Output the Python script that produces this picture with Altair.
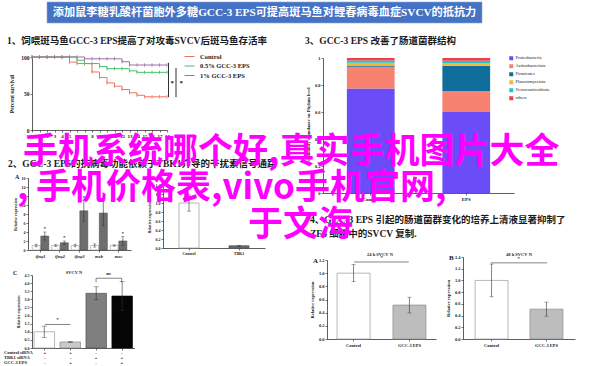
import altair as alt
import pandas as pd

W, H = 600, 366
SERIF = "Liberation Serif"
MIX = "Liberation Serif, Noto Sans CJK SC"
CJK = "Noto Sans CJK SC"
INK = "#1a1a1a"

# ---------------- text content ----------------
banner_text = "添加鼠李糖乳酸杆菌胞外多糖GCC-3 EPS可提高斑马鱼对鲤春病毒血症SVCV的抵抗力"
heading1 = "1、饲喂斑马鱼GCC-3 EPS提高了对攻毒SVCV后斑马鱼存活率"
heading2 = "2、GCC-3 EPS的抗病毒功能依赖于TBK1介导的干扰素信号通路"
heading3 = "3、GCC-3 EPS 改善了肠道菌群结构"
heading4a = "4、GCC-3 EPS 引起的肠道菌群变化的培养上清液显著抑制了"
heading4b = "ZF4 细胞中的SVCV 复制."
overlay1 = "手机系统哪个好,真实手机图片大全"
overlay2 = "手机价格表,vivo手机官网,"
overlay_comma = ","
overlay3 = "于文海"

# ---------------- panel 1: survival ----------------
days = list(range(19))
surv_groups = ["Control", "0.5% GCC-3 EPS", "1% GCC-3 EPS"]
surv_colors = ["#F4735F", "#45C26A", "#A06CA8"]
surv_control = [100, 100, 100, 100, 100, 93, 91, 91, 79.5, 72, 64.5, 60, 55.5, 51, 47.5, 45.5, 45.5, 45.5, 45.5]
surv_low = [100, 100, 100, 100, 100, 100, 95.5, 91, 91, 87, 84, 84, 84, 81, 79, 79, 79, 79, 79]
surv_high = [100, 100, 100, 100, 100, 100, 100, 97.5, 97.5, 97.5, 97.5, 97.5, 93.5, 89, 89, 89, 89, 89, 89]
surv_ticks = [0, 50, 100]
sig_x = [18.2, 19.2]
sig_top = [92, 85]
sig_bottom = [45, 45]
sig_star_x = [18.7, 19.9]
sig_star_y = [64, 64]

# ---------------- panel 3: phylum composition ----------------
samples = ["Control", "EPS"]
phyla = ["Proteobacteria", "Actinobacteriota", "Firmicutes", "Planctomycetota", "Verrucomicrobiota", "others"]
phyla_colors = ["#6A4DF6", "#F7826F", "#0F6E9C", "#F6B730", "#1EC7D0", "#EF3F4B"]
abund_control = [0.775, 0.16, 0.005, 0.025, 0.017, 0.018]
abund_eps = [0.60, 0.155, 0.188, 0.02, 0.017, 0.02]
abund_ticks = [0, 0.2, 0.4, 0.6, 0.8, 1]

# ---------------- panel 2A: interferon genes ----------------
genes = ["ifnφ1", "ifnφ2", "ifnφ3", "mxb", "mxc"]
g_conds = ["Control", "GCC-3 EPS"]
g_ctrl = [1.0, 1.0, 1.0, 1.0, 1.0]
g_ctrl_err = [0.3, 0.2, 0.3, 0.35, 0.15]
g_eps = [3.1, 1.6, 8.7, 8.2, 2.0]
g_eps_err = [0.9, 0.4, 2.3, 2.8, 1.0]
g_ticks = [0, 2, 4, 6, 8, 10, 12, 14, 16]

# ---------------- panel 2B: TBK1 knockdown ----------------
kd_cats = ["Control", "TBK1"]
kd_vals = [1.0, 0.05]
kd_err = [0.18, 0.01]
kd_ticks = [0, 0.2, 0.4, 0.6, 0.8, 1.0, 1.2, 1.4]

# ---------------- panel 2C: SVCV N with siRNA ----------------
c_bars = ["Control siRNA", "Control siRNA + EPS", "TBK1 siRNA", "TBK1 siRNA + EPS"]
c_vals = [1.0, 0.37, 3.37, 3.2]
c_err = [0.35, 0.04, 0.4, 0.9]
c_ticks = [0, 0.5, 1.0, 1.5, 2.0, 2.5, 3.0, 3.5, 4.0, 4.5]
c_rows = ["Control siRNA", "TBK1 siRNA", "GCC-3 EPS"]
c_signs = [["+", "+", "-", "-"], ["-", "-", "+", "+"], ["-", "+", "-", "+"]]

# ---------------- panel 4A / 4B ----------------
ab_cats = ["Control", "GCC-3 EPS"]
a_vals = [1.0, 0.515]
a_err = [0.13, 0.12]
a_ticks = [0, 0.2, 0.4, 0.6, 0.8, 1.0, 1.2]
b_vals = [1.0, 0.51]
b_err = [0.28, 0.12]
b_ticks = [0, 0.2, 0.4, 0.6, 0.8, 1.0, 1.2, 1.4]

WHITE_FILL = "#ffffff"
WHITE_EDGE = "#9a9a9a"


# ---------------- helpers ----------------
def ax_left(x_px, values, title, fmt, size=4.5, title_pad=3):
    return alt.Axis(orient="left", offset=-x_px, values=values, title=title, format=fmt, grid=False,
                    labelFont=SERIF, labelFontSize=size, labelFontWeight="bold", labelColor=INK,
                    labelPadding=1, labelFlush=False, labelOverlap=False,
                    tickSize=2, tickWidth=0.6, tickColor=INK, domainColor=INK, domainWidth=0.7,
                    titleFont=SERIF, titleFontSize=size, titleFontWeight="bold", titleColor=INK,
                    titlePadding=title_pad)


def ax_bottom(y_px, size=4.5, labels=True, values=None, italic=False):
    kw = dict(orient="bottom", offset=y_px - H, title=None, grid=False, labels=labels, labelAngle=0,
              labelFont=SERIF, labelFontSize=size, labelFontWeight="bold", labelColor=INK,
              labelPadding=1.5, labelFlush=False, labelOverlap=False,
              tickSize=2, tickWidth=0.6, tickColor=INK, domainColor=INK, domainWidth=0.7)
    if values is not None:
        kw["values"] = values
    if italic:
        kw["labelFontStyle"] = "italic"
    return alt.Axis(**kw)


def txt(text, x, y, size, color=INK, font=MIX, weight="normal", align="left", baseline="alphabetic"):
    return alt.Chart(pd.DataFrame({"t": [text]})).mark_text(
        align=align, baseline=baseline, fontSize=size, font=font, fontWeight=weight, color=color
    ).encode(x=alt.value(x), y=alt.value(y), text="t:N")


def bar_panel(cats, vals, errs, fills, strokes, xr, pi, po, yd, yr, yvals, yfmt,
              x_axis_y, y_axis_x, ytitle, xlabels=True, cap=5, size=4.5, tpad=3):
    lo = [round(v - e, 4) for v, e in zip(vals, errs)]
    hi = [round(v + e, 4) for v, e in zip(vals, errs)]
    df = pd.DataFrame({"cat": cats, "v": vals, "lo": lo, "hi": hi})

    def xs():
        return alt.Scale(domain=cats, range=xr, paddingInner=pi, paddingOuter=po)

    def ys():
        return alt.Scale(domain=yd, range=yr, nice=False, zero=True)

    bars = alt.Chart(df).mark_bar(strokeWidth=0.7).encode(
        x=alt.X("cat:N", scale=xs(), axis=ax_bottom(x_axis_y, size=size, labels=xlabels)),
        y=alt.Y("v:Q", scale=ys(), axis=ax_left(y_axis_x, yvals, ytitle, yfmt, size=size, title_pad=tpad)),
        fill=alt.Fill("cat:N", scale=alt.Scale(domain=cats, range=fills), legend=None),
        stroke=alt.Stroke("cat:N", scale=alt.Scale(domain=cats, range=strokes), legend=None),
    )
    err = alt.Chart(df).mark_rule(strokeWidth=0.6, color="#333333").encode(
        x=alt.X("cat:N", scale=xs(), axis=None),
        y=alt.Y("lo:Q", scale=ys(), axis=None),
        y2="hi:Q",
    )
    caps = alt.Chart(df).transform_fold(["lo", "hi"], as_=["k", "e"]).mark_tick(
        orient="horizontal", size=cap, thickness=0.6, color="#333333"
    ).encode(
        x=alt.X("cat:N", scale=xs(), axis=None),
        y=alt.Y("e:Q", scale=ys(), axis=None),
    )
    return [bars, err, caps], xs, ys


def bracket(a, b, ytop, leg, xs, ys, label, dx, size=5):
    if leg > 0:
        pts = pd.DataFrame({"c": [a, a, b, b], "y": [ytop - leg, ytop, ytop, ytop - leg], "i": [0, 1, 2, 3]})
    else:
        pts = pd.DataFrame({"c": [a, b], "y": [ytop, ytop], "i": [0, 1]})
    line = alt.Chart(pts).mark_line(strokeWidth=0.6, color="#333333").encode(
        x=alt.X("c:N", scale=xs(), axis=None),
        y=alt.Y("y:Q", scale=ys(), axis=None),
        order=alt.Order("i:Q"),
    )
    lab = alt.Chart(pd.DataFrame({"c": [a], "y": [ytop], "s": [label]})).mark_text(
        dx=dx, dy=-2, baseline="bottom", fontSize=size, font=SERIF, fontWeight="bold", color=INK
    ).encode(
        x=alt.X("c:N", scale=xs(), axis=None),
        y=alt.Y("y:Q", scale=ys(), axis=None),
        text="s:N",
    )
    return [line, lab]


layers = []

# ---------------- banner ----------------
layers.append(alt.Chart(pd.DataFrame({"a": [0]})).mark_rect(color="#4472C4", stroke="#8fa9dc", strokeWidth=0.6).encode(
    x=alt.value(47), x2=alt.value(482), y=alt.value(2), y2=alt.value(23)))
layers.append(txt(banner_text, 264.5, 13, 11.2, color="#ffffff", font=MIX, weight="bold", align="center", baseline="middle"))

# ---------------- headings ----------------
layers.append(txt(heading1, 7, 44, 9.5, weight="bold"))
layers.append(txt(heading3, 305, 44, 9.5, weight="bold"))
layers.append(txt(heading2, 8, 167, 9.5, weight="bold"))
layers.append(txt(heading4a, 310, 223, 9.5, weight="bold"))
layers.append(txt(heading4b, 310, 237, 9.5, weight="bold"))

# ---------------- panel 1: survival ----------------
surv_df = pd.DataFrame({
    "day": days * 3,
    "pct": surv_control + surv_low + surv_high,
    "group": [g for g in surv_groups for _ in days],
})


def s1x():
    return alt.Scale(domain=[0, 18], range=[32, 167], nice=False, zero=False)


def s1y():
    return alt.Scale(domain=[0, 100], range=[130, 57], nice=False, zero=False)


def s1c():
    return alt.Scale(domain=surv_groups, range=surv_colors)


layers.append(alt.Chart(surv_df).mark_line(interpolate="step-after", strokeWidth=1).encode(
    x=alt.X("day:Q", scale=s1x(), axis=ax_bottom(130, size=5, values=days)),
    y=alt.Y("pct:Q", scale=s1y(), axis=ax_left(32, surv_ticks, "Percent survival", "d", size=5.5, title_pad=6)),
    color=alt.Color("group:N", scale=s1c(), legend=alt.Legend(
        orient="none", legendX=184, legendY=51, title=None, symbolType="stroke", symbolSize=100,
        symbolStrokeWidth=1, labelFont=SERIF, labelFontSize=6.5, labelFontWeight="bold", labelColor=INK,
        rowPadding=0.5, labelOffset=5, padding=0)),
))
layers.append(alt.Chart(surv_df).mark_point(shape="M0,-1L0,1", size=12, strokeWidth=0.8, opacity=1).encode(
    x=alt.X("day:Q", scale=s1x(), axis=None),
    y=alt.Y("pct:Q", scale=s1y(), axis=None),
    color=alt.Color("group:N", scale=s1c(), legend=None),
))
layers.append(alt.Chart(pd.DataFrame({"x": sig_x, "top": sig_top, "bot": sig_bottom})).mark_rule(
    strokeWidth=0.9, color=INK).encode(
    x=alt.X("x:Q", scale=s1x(), axis=None),
    y=alt.Y("top:Q", scale=s1y(), axis=None),
    y2="bot:Q",
))
layers.append(alt.Chart(pd.DataFrame({"x": sig_star_x, "y": sig_star_y, "s": ["*", "*"]})).mark_text(
    fontSize=7, font=SERIF, fontWeight="bold", color=INK).encode(
    x=alt.X("x:Q", scale=s1x(), axis=None),
    y=alt.Y("y:Q", scale=s1y(), axis=None),
    text="s:N",
))

# ---------------- panel 3: stacked phylum bars ----------------
p3_rows = []
for s, vals in zip(samples, [abund_control, abund_eps]):
    for i, (p, v) in enumerate(zip(phyla, vals)):
        p3_rows.append({"sample": s, "phylum": p, "frac": v, "rank": i})
p3_df = pd.DataFrame(p3_rows)
layers.append(alt.Chart(p3_df).mark_bar().encode(
    x=alt.X("sample:N", scale=alt.Scale(domain=samples, range=[323, 514], paddingInner=0.5, paddingOuter=0.25),
            axis=ax_bottom(193, size=5)),
    y=alt.Y("frac:Q", stack="zero", scale=alt.Scale(domain=[0, 1], range=[193, 58], nice=False),
            axis=ax_left(323, abund_ticks, "Community abundance on Phylum level", "~g", size=4.5, title_pad=4)),
    color=alt.Color("phylum:N", scale=alt.Scale(domain=phyla, range=phyla_colors), legend=alt.Legend(
        orient="none", legendX=509, legendY=56, title=None, symbolType="square", symbolSize=16,
        symbolStrokeWidth=0, labelFont=SERIF, labelFontSize=4.5, labelColor=INK,
        rowPadding=2, labelOffset=2, padding=0)),
    order=alt.Order("rank:Q", sort="ascending"),
))

# ---------------- panel 2A: grouped gene bars ----------------
g_rows = []
for gi, gname in enumerate(genes):
    g_rows.append({"gene": gname, "cond": g_conds[0], "v": g_ctrl[gi],
                   "lo": round(g_ctrl[gi] - g_ctrl_err[gi], 3), "hi": round(g_ctrl[gi] + g_ctrl_err[gi], 3)})
    g_rows.append({"gene": gname, "cond": g_conds[1], "v": g_eps[gi],
                   "lo": round(g_eps[gi] - g_eps_err[gi], 3), "hi": round(g_eps[gi] + g_eps_err[gi], 3)})
g_df = pd.DataFrame(g_rows)


def gx():
    return alt.Scale(domain=genes, range=[28, 131], paddingInner=0.15, paddingOuter=0.215)


def gxo():
    return alt.Scale(domain=g_conds, paddingInner=0.08)


def gy():
    return alt.Scale(domain=[0, 16], range=[250, 178], nice=False)


layers.append(alt.Chart(g_df).mark_bar(strokeWidth=0.6).encode(
    x=alt.X("gene:N", scale=gx(), axis=ax_bottom(250, size=4.5, italic=True)),
    xOffset=alt.XOffset("cond:N", scale=gxo()),
    y=alt.Y("v:Q", scale=gy(), axis=ax_left(28, g_ticks, "Relative expression", "d", size=4, title_pad=4)),
    fill=alt.Fill("cond:N", scale=alt.Scale(domain=g_conds, range=[WHITE_FILL, "#6e6e6e"]), legend=None),
    stroke=alt.Stroke("cond:N", scale=alt.Scale(domain=g_conds, range=[WHITE_EDGE, "#4d4d4d"]), legend=None),
))
layers.append(alt.Chart(g_df).mark_rule(strokeWidth=0.6, color="#333333").encode(
    x=alt.X("gene:N", scale=gx(), axis=None),
    xOffset=alt.XOffset("cond:N", scale=gxo()),
    y=alt.Y("lo:Q", scale=gy(), axis=None),
    y2="hi:Q",
))
layers.append(alt.Chart(g_df).transform_fold(["lo", "hi"], as_=["k", "e"]).mark_tick(
    orient="horizontal", size=3, thickness=0.6, color="#333333").encode(
    x=alt.X("gene:N", scale=gx(), axis=None),
    xOffset=alt.XOffset("cond:N", scale=gxo()),
    y=alt.Y("e:Q", scale=gy(), axis=None),
))
layers.append(alt.Chart(g_df).transform_filter(alt.datum.cond == g_conds[1]).transform_calculate(
    s="'*'").mark_text(dy=-1, baseline="bottom", fontSize=5, font=SERIF, fontWeight="bold", color=INK).encode(
    x=alt.X("gene:N", scale=gx(), axis=None),
    xOffset=alt.XOffset("cond:N", scale=gxo()),
    y=alt.Y("hi:Q", scale=gy(), axis=None),
    text="s:N",
))
layers.append(txt("A", 15, 179, 6, font=SERIF, weight="bold"))

# ---------------- panel 2B: TBK1 ----------------
kd_layers, kdx, kdy = bar_panel(kd_cats, kd_vals, kd_err, [WHITE_FILL, "#707070"], [WHITE_EDGE, "#4d4d4d"],
                                [163, 265], 0.6, 0.32, [0, 1.4], [248, 185], kd_ticks, ".1f",
                                248, 163, "Relative expression", cap=4, size=4, tpad=4)
layers += kd_layers

# ---------------- panel 2C: SVCV N with siRNA ----------------
c_layers, cx, cy = bar_panel(c_bars, c_vals, c_err, [WHITE_FILL, "#c9c9c9", "#7f7f7f", "#050505"],
                             [WHITE_EDGE, "#8a8a8a", "#555555", "#000000"],
                             [32, 134.5], 0.21, 0.08, [0, 4.5], [348, 275], c_ticks, ".1f",
                             348, 32, "Relative expression", xlabels=False, cap=5, size=4, tpad=4)
layers += c_layers
layers += bracket(c_bars[0], c_bars[1], 1.45, 0, cx, cy, "*", 12.6)
layers += bracket(c_bars[2], c_bars[3], 4.3, 0.25, cx, cy, "ns", 12.6)
c_tab = []
for r, signs in zip(c_rows, c_signs):
    for bname, s in zip(c_bars, signs):
        c_tab.append({"row": r, "bar": bname, "s": s})
layers.append(alt.Chart(pd.DataFrame(c_tab)).mark_text(fontSize=4.5, font=SERIF, fontWeight="bold", color=INK).encode(
    x=alt.X("bar:N", scale=cx(), axis=None),
    y=alt.Y("row:O", scale=alt.Scale(type="point", domain=c_rows, range=[353, 363], padding=0), axis=None),
    text="s:N",
))
layers.append(alt.Chart(pd.DataFrame({"row": c_rows})).mark_text(
    align="left", fontSize=4.5, font=SERIF, fontWeight="bold", color=INK).encode(
    x=alt.value(4),
    y=alt.Y("row:O", scale=alt.Scale(type="point", domain=c_rows, range=[353, 363], padding=0), axis=None),
    text="row:N",
))
layers.append(txt("C", 13, 275, 6, font=SERIF, weight="bold"))
layers.append(txt("SVCV N", 74, 274, 4.5, font=SERIF, weight="bold", align="center"))

# ---------------- panel 4A ----------------
a_layers, ax_, ay_ = bar_panel(ab_cats, a_vals, a_err, [WHITE_FILL, "#bdbdbd"], [WHITE_EDGE, "#8a8a8a"],
                               [327, 436], 0.41, 0.18, [0, 1.2], [339, 260], a_ticks, ".1f",
                               339, 327, "Relative expression", cap=4, size=4.5, tpad=4)
layers += a_layers
layers += bracket(ab_cats[0], ab_cats[1], 1.17, 0, ax_, ay_, "*", 27.5)
layers.append(txt("A", 313, 263, 7, font=SERIF, weight="bold"))
layers.append(txt("24 h SVCV N", 380, 256, 4.5, font=SERIF, weight="bold", align="center"))

# ---------------- panel 4B ----------------
b_layers, bx_, by_ = bar_panel(ab_cats, b_vals, b_err, [WHITE_FILL, "#bdbdbd"], [WHITE_EDGE, "#8a8a8a"],
                               [463, 575], 0.4, 0.22, [0, 1.4], [339, 257], b_ticks, ".1f",
                               339, 463, "Relative expression", cap=4, size=4.5, tpad=4)
layers += b_layers
layers += bracket(ab_cats[0], ab_cats[1], 1.30, 0, bx_, by_, "*", 27.5)
layers.append(txt("B", 449, 260, 7, font=SERIF, weight="bold"))
layers.append(txt("48 h SVCV N", 519, 256, 4.5, font=SERIF, weight="bold", align="center"))

# ---------------- magenta overlay ----------------
MAG = "#FF00FF"
layers.append(txt(overlay1, 23, 163, 35, color=MAG, font=CJK, weight="bold"))
layers.append(txt(overlay2, 36, 199, 35, color=MAG, font=CJK, weight="bold"))
layers.append(txt(overlay_comma, 17, 199, 35, color=MAG, font=CJK, weight="bold"))
layers.append(txt(overlay3, 248, 236, 35, color=MAG, font=CJK, weight="bold"))

chart = alt.layer(*layers).resolve_scale(
    x="independent", y="independent", color="independent", fill="independent",
    stroke="independent", xOffset="independent"
).resolve_axis(x="independent", y="independent").resolve_legend(color="independent").properties(
    width=W, height=H, padding=0, autosize=alt.AutoSizeParams(type="none"), background="white"
).configure_view(stroke=None)

chart.save("out.html", embed_options={"renderer": "svg", "actions": False})
